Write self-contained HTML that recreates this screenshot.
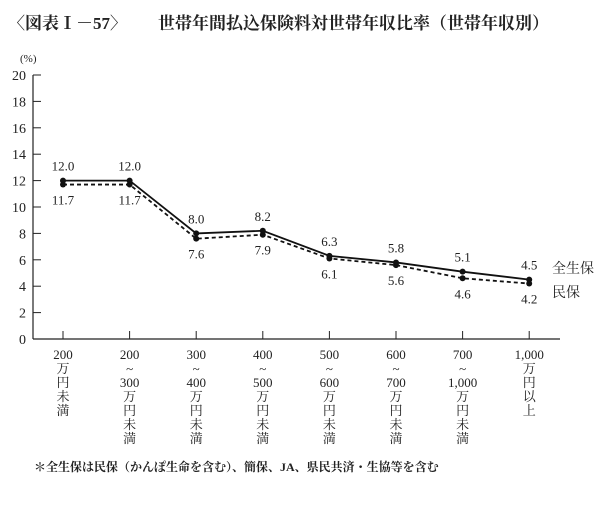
<!DOCTYPE html>
<html><head><meta charset="utf-8"><style>
body{margin:0;background:#fff;}
svg text{font-family:"Liberation Serif","Noto Serif CJK SC",serif;fill:#222;}
</style></head><body>
<svg width="607" height="502">
<text x="8" y="29" font-size="17" font-weight="bold">〈図表Ⅰ－57〉</text>
<text x="158" y="29" font-size="17" font-weight="bold">世帯年間払込保険料対世帯年収比率（世帯年収別）</text>
<text x="20" y="62" font-size="11">(%)</text>
<g id="axes"></g>
<g id="marks"></g>
<text x="552" y="273" font-size="14">全生保</text>
<text x="552" y="297" font-size="14">民保</text>
<text x="34" y="471" font-size="12" font-weight="bold">＊全生保は民保（かんぽ生命を含む）、簡保、JA、県民共済・生協等を含む</text>
</svg>
<script>
const categories=[["200","万","円","未","満"],["200","~","300","万","円","未","満"],["300","~","400","万","円","未","満"],["400","~","500","万","円","未","満"],["500","~","600","万","円","未","満"],["600","~","700","万","円","未","満"],["700","~","1,000","万","円","未","満"],["1,000","万","円","以","上"]];
const zenseiho=[12.0,12.0,8.0,8.2,6.3,5.8,5.1,4.5];
const minpo=[11.7,11.7,7.6,7.9,6.1,5.6,4.6,4.2];
const yTicks=[0,2,4,6,8,10,12,14,16,18,20];
const NS="http://www.w3.org/2000/svg";
const X0=33,X1=560,Y0=339,Y20=75;
const xs=i=>63+i*66.6;
const ys=v=>Y0-(v/20)*(Y0-Y20);
function mk(tag,attrs,parent,txt){const e=document.createElementNS(NS,tag);for(const k in attrs)e.setAttribute(k,attrs[k]);if(txt!==undefined)e.textContent=txt;parent.appendChild(e);return e;}
const ax=document.getElementById('axes'),mg=document.getElementById('marks');
let e=mk('line',{x1:X0,y1:Y20,x2:X0,y2:Y0,stroke:'#222','stroke-width':1.2},ax);


e=mk('line',{x1:X0,y1:Y0,x2:X1,y2:Y0,stroke:'#222','stroke-width':1.2},ax);


yTicks.forEach(v=>{
  const t=mk('line',{x1:X0,y1:ys(v),x2:X0+8,y2:ys(v),stroke:'#222'},ax);
  
  
  const l=mk('text',{x:26,y:ys(v)+5,'font-size':14,'text-anchor':'end'},ax,String(v));
  
  
});
categories.forEach((c,i)=>{
  const t=mk('line',{x1:xs(i),y1:Y0,x2:xs(i),y2:Y0-8,stroke:'#222'},ax);
  
  
  const g=mk('text',{'font-size':13,'text-anchor':'middle'},ax);
  
  
  c.forEach((s,j)=>{mk('tspan',{x:xs(i),y:359+j*14},g,s);});
});
function series(vals,dash,name,labelAbove){
  const p=mk('polyline',{points:vals.map((v,i)=>xs(i)+','+ys(v)).join(' '),fill:'none',stroke:'#111','stroke-width':1.8,'stroke-dasharray':dash},mg);
  
  
  vals.forEach((v,i)=>{
    const c=mk('circle',{cx:xs(i),cy:ys(v),r:3,fill:'#111'},mg);
    
    
    const l=mk('text',{x:xs(i),y:labelAbove?ys(v)-10:ys(v)+20,'font-size':13,'text-anchor':'middle'},mg,v.toFixed(1));
    
    
  });
}
series(minpo,'4,3','minpo',false);
series(zenseiho,'none','zenseiho',true);
</script>
</body></html>
